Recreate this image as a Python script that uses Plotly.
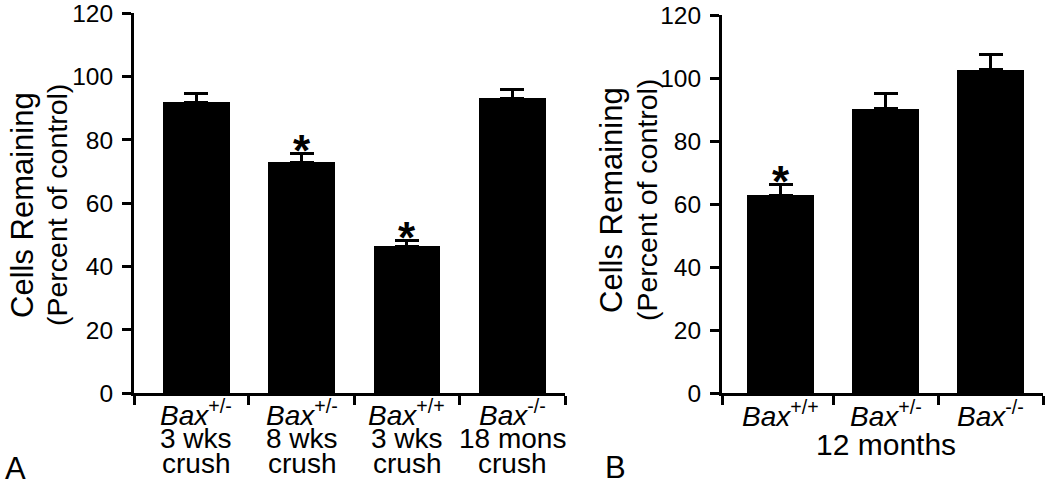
import plotly.graph_objects as go

# ---- data ----
a_genotype = ["+/-", "+/-", "+/+", "-/-"]
a_line2 = ["3 wks", "8 wks", "3 wks", "18 mons"]
a_line3 = ["crush", "crush", "crush", "crush"]
a_values = [91.9, 72.9, 46.5, 93.1]
a_errors = [2.8, 2.8, 1.8, 2.8]
a_signif = [False, True, True, False]

b_genotype = ["+/+", "+/-", "-/-"]
b_values = [62.8, 90.3, 102.6]
b_errors = [3.3, 4.9, 4.9]
b_signif = [True, False, False]
b_group_label = "12 months"

y_ticks = [0, 20, 40, 60, 80, 100, 120]
y_title = "Cells Remaining"
y_subtitle = "(Percent of control)"

FONT = "Liberation Sans, Arial, Helvetica, sans-serif"
W, H = 1050, 484

def px_x(p):
    return p / W

def px_y(p):
    return (H - p) / H

fig = go.Figure()

a_x = list(range(len(a_values)))
b_x = list(range(len(b_values)))

err_style = dict(type="data", symmetric=False, thickness=3, width=12, color="black")

fig.add_trace(go.Bar(
    x=a_x, y=a_values, width=0.634, marker=dict(color="black", line=dict(width=0)),
    error_y=dict(array=a_errors, arrayminus=[0] * len(a_errors), **err_style),
    xaxis="x", yaxis="y", showlegend=False, hoverinfo="skip",
))
fig.add_trace(go.Bar(
    x=b_x, y=b_values, width=0.634, marker=dict(color="black", line=dict(width=0)),
    error_y=dict(array=b_errors, arrayminus=[0] * len(b_errors), **err_style),
    xaxis="x2", yaxis="y2", showlegend=False, hoverinfo="skip",
))

a_xmin, a_xmax = -0.59, 3.5
b_xmin, b_xmax = -0.56, 2.5

common_x = dict(showgrid=False, zeroline=False, showline=True, linewidth=3, linecolor="black",
                ticks="outside", ticklen=9, tickwidth=3, tickcolor="black", showticklabels=False,
                automargin=False)
common_y = dict(showgrid=False, zeroline=False, showline=True, linewidth=3, linecolor="black",
                ticks="outside", ticklen=9, tickwidth=3, tickcolor="black",
                tickvals=y_ticks, range=[0, 120], ticklabelstandoff=4, automargin=False,
                ticklabeloverflow="allow",
                tickfont=dict(family=FONT, size=24.5, color="black"))

fig.update_layout(
    width=W, height=H, margin=dict(l=0, r=0, t=0, b=0, autoexpand=False),
    paper_bgcolor="white", plot_bgcolor="white",
    xaxis=dict(domain=[px_x(134), px_x(565)], range=[a_xmin, a_xmax],
               tickvals=[a_xmin, 0.5, 1.5, 2.5, 3.5], anchor="y", **common_x),
    yaxis=dict(domain=[px_y(393.3), px_y(13.3)], anchor="x", **common_y),
    xaxis2=dict(domain=[px_x(722), px_x(1043)], range=[b_xmin, b_xmax],
                tickvals=[b_xmin, 0.5, 1.5, 2.5], anchor="y2", **common_x),
    yaxis2=dict(domain=[px_y(393), px_y(15)], anchor="x2", **common_y),
    bargap=0,
)

LBL = 28
ann = []
# category labels panel A
for i, g in enumerate(a_genotype):
    ann.append(dict(x=i, y=px_y(413), xref="x", yref="paper", showarrow=False,
                    text="<i>Bax</i><sup>%s</sup>" % g, font=dict(family=FONT, size=LBL, color="black"),
                    xanchor="center", yanchor="middle"))
    ann.append(dict(x=i, y=px_y(438), xref="x", yref="paper", showarrow=False,
                    text=a_line2[i], font=dict(family=FONT, size=LBL, color="black"),
                    xanchor="center", yanchor="middle"))
    ann.append(dict(x=i, y=px_y(463), xref="x", yref="paper", showarrow=False,
                    text=a_line3[i], font=dict(family=FONT, size=LBL, color="black"),
                    xanchor="center", yanchor="middle"))
    if a_signif[i]:
        ann.append(dict(x=i, y=a_values[i] + a_errors[i], xref="x", yref="y", showarrow=False,
                        text="<b>*</b>", font=dict(family=FONT, size=44, color="black"),
                        xanchor="center", yanchor="middle", yshift=3))
# category labels panel B
for i, g in enumerate(b_genotype):
    ann.append(dict(x=i, y=px_y(414), xref="x2", yref="paper", showarrow=False,
                    text="<i>Bax</i><sup>%s</sup>" % g, font=dict(family=FONT, size=LBL, color="black"),
                    xanchor="center", yanchor="middle"))
    if b_signif[i]:
        ann.append(dict(x=i, y=b_values[i] + b_errors[i], xref="x2", yref="y2", showarrow=False,
                        text="<b>*</b>", font=dict(family=FONT, size=44, color="black"),
                        xanchor="center", yanchor="middle", yshift=3))
ann.append(dict(x=1, y=px_y(444), xref="x2", yref="paper", showarrow=False,
                text=b_group_label, font=dict(family=FONT, size=30, color="black"),
                xanchor="center", yanchor="middle"))

# axis titles
for cx1, cx2, cy in [(22, 57, 205), (612, 647, 200)]:
    ann.append(dict(x=px_x(cx1), y=px_y(cy), xref="paper", yref="paper", showarrow=False,
                    text=y_title, textangle=-90, font=dict(family=FONT, size=31, color="black"),
                    xanchor="center", yanchor="middle"))
    ann.append(dict(x=px_x(cx2), y=px_y(cy), xref="paper", yref="paper", showarrow=False,
                    text=y_subtitle, textangle=-90, font=dict(family=FONT, size=28.5, color="black"),
                    xanchor="center", yanchor="middle"))

# panel letters
ann.append(dict(x=px_x(3), y=px_y(468), xref="paper", yref="paper", showarrow=False,
                text="A", font=dict(family=FONT, size=31, color="black"),
                xanchor="left", yanchor="middle"))
ann.append(dict(x=px_x(603), y=px_y(467), xref="paper", yref="paper", showarrow=False,
                text="B", font=dict(family=FONT, size=31, color="black"),
                xanchor="left", yanchor="middle"))

fig.update_layout(annotations=ann)
fig.write_html("out.html", config={"displayModeBar": False, "staticPlot": True},
               post_script="document.body.style.margin='0';document.body.style.overflow='hidden';")
